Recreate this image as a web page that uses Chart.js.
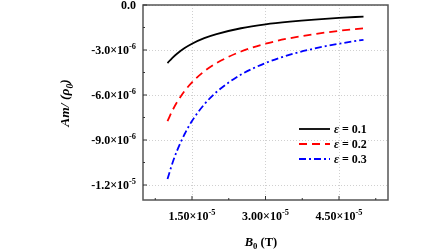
<!DOCTYPE html>
<html>
<head>
<meta charset="utf-8">
<script src="https://cdn.jsdelivr.net/npm/chart.js@4/dist/chart.umd.min.js"></script>
<style>
  html, body { margin: 0; padding: 0; background: #fff; }
  #wrap { width: 448px; height: 252px; }
</style>
</head>
<body>
<div id="wrap"><canvas id="c" width="448" height="252"></canvas></div>
<script>
// B0 (T) sample points and the three curves
var bValues = [1.0e-5, 1.1e-5, 1.2e-5, 1.35e-5, 1.5e-5, 1.75e-5, 2.0e-5, 2.5e-5, 3.0e-5, 3.5e-5, 4.0e-5, 4.5e-5, 5.0e-5];
var eps01 = [-3.87e-6, -3.52e-6, -3.23e-6, -2.87e-6, -2.58e-6, -2.21e-6, -1.94e-6, -1.55e-6, -1.29e-6, -1.11e-6, -0.97e-6, -0.86e-6, -0.77e-6];
var eps02 = [-7.74e-6, -7.04e-6, -6.45e-6, -5.73e-6, -5.16e-6, -4.42e-6, -3.87e-6, -3.10e-6, -2.58e-6, -2.21e-6, -1.94e-6, -1.72e-6, -1.55e-6];
var eps03 = [-11.6e-6, -10.55e-6, -9.67e-6, -8.6e-6, -7.73e-6, -6.63e-6, -5.8e-6, -4.64e-6, -3.87e-6, -3.31e-6, -2.9e-6, -2.58e-6, -2.32e-6];
var seriesNames = ['0.1', '0.2', '0.3'];

// tick labels: mantissa + power of ten (drawn with a real superscript)
var xTickValues = [1.5e-5, 3.0e-5, 4.5e-5];
var xTickMant = ['1.50×10', '3.00×10', '4.50×10'];
var xTickExp = ['-5', '-5', '-5'];
var xMinorTicks = [0.75e-5, 2.25e-5, 3.75e-5, 5.25e-5];
var yTickValues = [0, -3e-6, -6e-6, -9e-6, -1.2e-5];
var yTickMant = ['0.0', '-3.0×10', '-6.0×10', '-9.0×10', '-1.2×10'];
var yTickExp = ['', '-6', '-6', '-6', '-5'];
var yMinorTicks = [-1.5e-6, -4.5e-6, -7.5e-6, -10.5e-6];

var SERIF = '"Liberation Serif", "DejaVu Serif", serif';

function pts(ys) {
  return bValues.map(function (x, i) { return { x: x, y: ys[i] }; });
}

// parts = [[text, italic, shift]] ; shift: 1 = subscript, -1 = superscript
function richWidth(ctx, parts, size) {
  var w = 0;
  parts.forEach(function (p) {
    ctx.font = (p[1] ? 'italic ' : '') + 'bold ' + (p[2] ? size * 0.7 : size) + 'px ' + SERIF;
    w += ctx.measureText(p[0]).width;
  });
  return w;
}
function drawRich(ctx, parts, size, x, y, align) {
  var w = richWidth(ctx, parts, size);
  if (align === 'center') x -= w / 2;
  if (align === 'right') x -= w;
  parts.forEach(function (p) {
    ctx.font = (p[1] ? 'italic ' : '') + 'bold ' + (p[2] ? size * 0.7 : size) + 'px ' + SERIF;
    ctx.fillText(p[0], x, y + (p[2] ? p[2] * size * 0.32 : 0));
    x += ctx.measureText(p[0]).width;
  });
}

var framePlugin = {
  id: 'frame',
  afterDraw: function (chart) {
    var ctx = chart.ctx, a = chart.chartArea;
    var xs = chart.scales.x, ys = chart.scales.y;
    ctx.save();
    ctx.strokeStyle = '#555';
    ctx.lineWidth = 1.5;
    ctx.strokeRect(a.left, a.top, a.right - a.left, a.bottom - a.top);

    // inward ticks
    ctx.lineWidth = 1;
    ctx.strokeStyle = '#333';
    ctx.beginPath();
    xTickValues.forEach(function (v) { var p = xs.getPixelForValue(v); ctx.moveTo(p, a.bottom); ctx.lineTo(p, a.bottom - 4); });
    xMinorTicks.forEach(function (v) { var p = xs.getPixelForValue(v); ctx.moveTo(p, a.bottom); ctx.lineTo(p, a.bottom - 2); });
    yTickValues.forEach(function (v) { var p = ys.getPixelForValue(v); ctx.moveTo(a.left, p); ctx.lineTo(a.left + 4, p); });
    yMinorTicks.forEach(function (v) { var p = ys.getPixelForValue(v); ctx.moveTo(a.left, p); ctx.lineTo(a.left + 2, p); });
    ctx.stroke();

    ctx.fillStyle = '#000';
    ctx.textBaseline = 'middle';
    ctx.textAlign = 'left';

    // tick labels
    yTickValues.forEach(function (v, i) {
      var p = ys.getPixelForValue(v);
      var parts = [[yTickMant[i], false, 0]];
      if (yTickExp[i]) parts.push([yTickExp[i], false, -1]);
      drawRich(ctx, parts, 12, a.left - 7, p + 1, 'right');
    });
    xTickValues.forEach(function (v, i) {
      var p = xs.getPixelForValue(v);
      drawRich(ctx, [[xTickMant[i], false, 0], [xTickExp[i], false, -1]], 12, p, a.bottom + 17, 'center');
    });

    // axis titles
    ctx.save();
    ctx.translate(66, 103);
    ctx.rotate(-Math.PI / 2);
    drawRich(ctx, [['Am/ (ρ', true, 0], ['0', true, 1], [')', true, 0]], 13.5, 0, 0, 'center');
    ctx.restore();
    drawRich(ctx, [['B', true, 0], ['0', false, 1], [' (T)', false, 0]], 12.5, 261, 243, 'center');

    // legend
    var rowY = [129, 144, 159];
    chart.data.datasets.forEach(function (ds, i) {
      ctx.save();
      ctx.strokeStyle = ds.borderColor;
      ctx.lineWidth = 1.8;
      ctx.setLineDash(ds.borderDash || []);
      ctx.beginPath();
      ctx.moveTo(299, rowY[i]);
      ctx.lineTo(330, rowY[i]);
      ctx.stroke();
      ctx.restore();
      drawRich(ctx, [['ε', true, 0], [' = ' + seriesNames[i], false, 0]], 12, 334, rowY[i] + 1, 'left');
    });
    ctx.restore();
  }
};

new Chart(document.getElementById('c'), {
  type: 'scatter',
  data: {
    datasets: [
      { label: 'ε = 0.1', data: pts(eps01), borderColor: '#000', borderWidth: 1.8, borderDash: [] },
      { label: 'ε = 0.2', data: pts(eps02), borderColor: '#ff0000', borderWidth: 1.8, borderDash: [8, 5] },
      { label: 'ε = 0.3', data: pts(eps03), borderColor: '#0000ff', borderWidth: 1.8, borderDash: [7, 3, 2, 3] }
    ].map(function (d) {
      d.showLine = true; d.pointRadius = 0; d.fill = false; d.cubicInterpolationMode = 'monotone';
      return d;
    })
  },
  options: {
    responsive: false,
    animation: false,
    layout: { padding: { left: 0, right: 60, top: 5, bottom: 0 } },
    plugins: { legend: { display: false }, tooltip: { enabled: false } },
    scales: {
      x: {
        type: 'linear', min: 0.5e-5, max: 5.5e-5,
        afterBuildTicks: function (s) { s.ticks = xTickValues.map(function (v) { return { value: v }; }); },
        afterFit: function (s) { s.height = 52; },
        grid: { color: '#d0d0d0', drawTicks: false, lineWidth: 1 },
        border: { display: false, dash: [1, 2] },
        ticks: { display: false }
      },
      y: {
        type: 'linear', min: -1.3e-5, max: 0,
        afterBuildTicks: function (s) { s.ticks = yTickValues.map(function (v) { return { value: v }; }); },
        afterFit: function (s) { s.width = 143; },
        grid: { color: '#d0d0d0', drawTicks: false, lineWidth: 1 },
        border: { display: false, dash: [1, 2] },
        ticks: { display: false }
      }
    }
  },
  plugins: [framePlugin]
});
</script>
</body>
</html>
